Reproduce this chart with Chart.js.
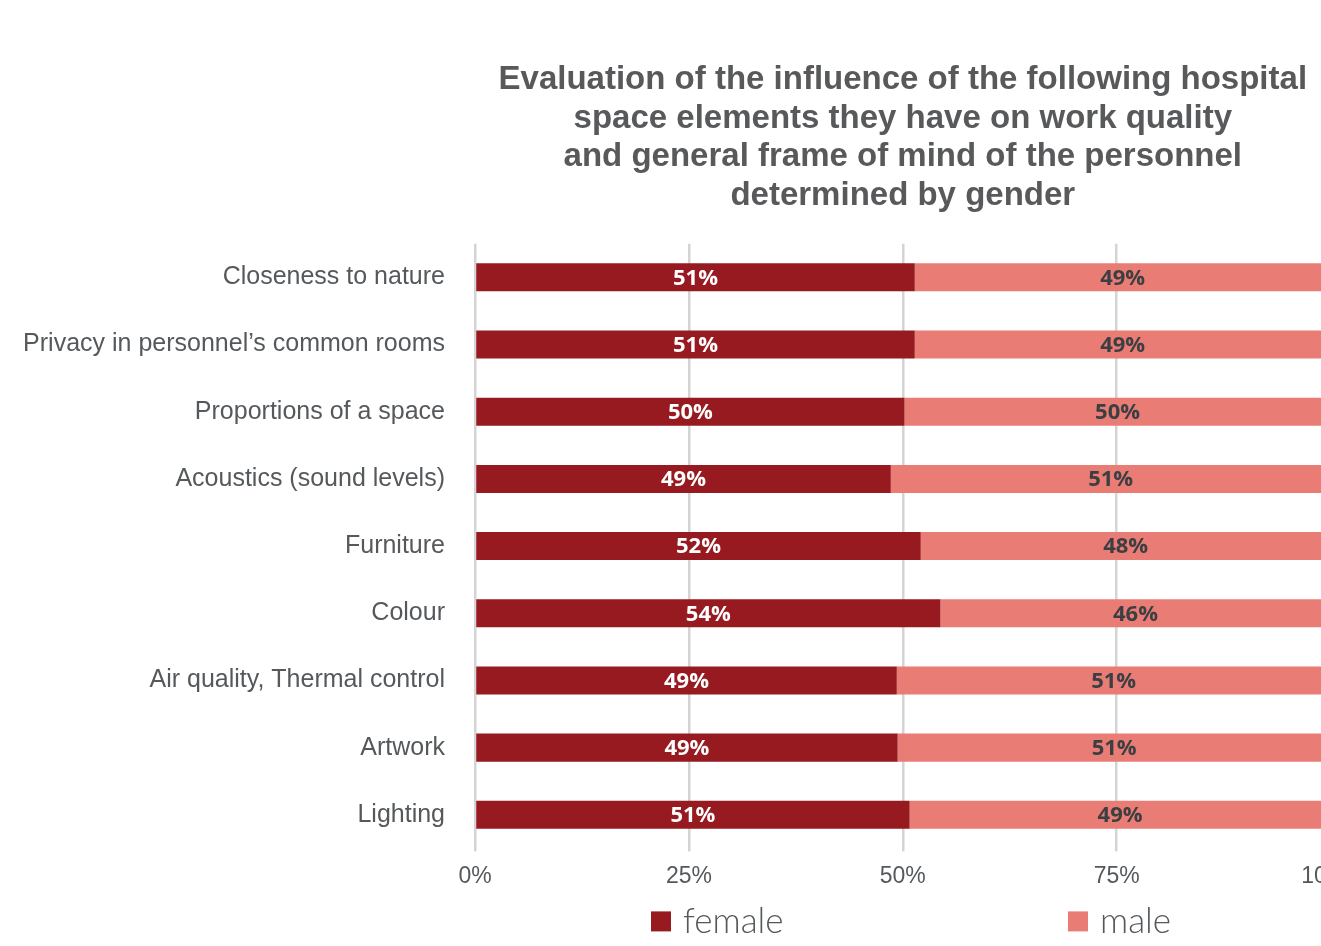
<!DOCTYPE html>
<html>
<head>
<meta charset="utf-8">
<script src="https://cdn.jsdelivr.net/npm/chart.js@4.4.1/dist/chart.umd.min.js"></script>
<style>
  html, body { margin: 0; padding: 0; background: #ffffff; overflow: hidden; }
  #wrap { position: relative; width: 1371px; height: 946px; }
</style>
</head>
<body>
<div id="wrap"><canvas id="c" width="1371" height="946"></canvas></div>
<script>
const categories = [
  "Closeness to nature",
  "Privacy in personnel\u2019s common rooms",
  "Proportions of a space",
  "Acoustics (sound levels)",
  "Furniture",
  "Colour",
  "Air quality, Thermal control",
  "Artwork",
  "Lighting"
];
const femaleValues = [51.4, 51.4, 50.2, 48.6, 52.1, 54.4, 49.3, 49.4, 50.8];
const maleValues   = [48.6, 48.6, 49.8, 51.4, 47.9, 45.6, 50.7, 50.6, 49.2];
const seriesNames = ["female", "male"];
const xTickValues = [0, 25, 50, 75, 100];
const titleLines = [
  "Evaluation of the influence of the following hospital",
  "space elements they have on work quality",
  "and general frame of mind of the personnel",
  "determined by gender"
];

const FEMALE_COLOR = "#961a1f";
const MALE_COLOR = "#e97c75";
const TEXT_GREY = "#55595c";

const barLabels = {
  id: "barLabels",
  afterDatasetsDraw(chart) {
    const ctx = chart.ctx;
    ctx.save();
    ctx.font = "bold 22px 'Open Sans', 'DejaVu Sans', sans-serif";
    ctx.textAlign = "center";
    ctx.textBaseline = "middle";
    chart.data.datasets.forEach((ds, di) => {
      const meta = chart.getDatasetMeta(di);
      ctx.fillStyle = di === 0 ? "#ffffff" : "#3c3f42";
      meta.data.forEach((el, i) => {
        const v = ds.data[i];
        const cx = (el.x + el.base) / 2;
        ctx.fillText(Math.round(v) + "%", cx, el.y + 1);
      });
    });
    ctx.restore();
  }
};

const customLegend = {
  id: "customLegend",
  afterDraw(chart) {
    const ctx = chart.ctx;
    const a = chart.chartArea;
    const offsets = [176, 593];
    const cy = a.bottom + 73;
    ctx.save();
    ctx.font = "300 35px Lato, 'Open Sans', sans-serif";
    ctx.textBaseline = "middle";
    ctx.textAlign = "left";
    chart.data.datasets.forEach((ds, i) => {
      const x = a.left + offsets[i];
      ctx.fillStyle = ds.backgroundColor;
      ctx.fillRect(x, cy - 10, 20, 20);
      ctx.fillStyle = TEXT_GREY;
      ctx.fillText(ds.label, x + 32, cy);
    });
    ctx.restore();
  }
};

new Chart(document.getElementById("c"), {
  type: "bar",
  data: {
    labels: categories,
    datasets: [
      { label: seriesNames[0], data: femaleValues, backgroundColor: FEMALE_COLOR, borderWidth: 0,
        categoryPercentage: 1, barPercentage: 0.417 },
      { label: seriesNames[1], data: maleValues, backgroundColor: MALE_COLOR, borderWidth: 0,
        categoryPercentage: 1, barPercentage: 0.417 }
    ]
  },
  options: {
    indexAxis: "y",
    responsive: false,
    devicePixelRatio: 1,
    animation: false,
    layout: { padding: { left: 0, right: 30, top: 0, bottom: 45 } },
    plugins: {
      legend: { display: false },
      tooltip: { enabled: false },
      title: {
        display: true,
        fullSize: false,
        text: titleLines,
        color: "#58595b",
        font: { family: "'Liberation Sans', Arial, sans-serif", size: 33, weight: "bold", lineHeight: 1.18 },
        padding: { top: 60, bottom: 28 }
      }
    },
    scales: {
      x: {
        stacked: true,
        min: 0,
        max: 100,
        afterBuildTicks(scale) { scale.ticks = xTickValues.map(v => ({ value: v })); },
        grid: { color: "#d4d4d4", lineWidth: 2.5, drawTicks: true, tickLength: 3 },
        border: { display: false },
        ticks: {
          padding: 11,
          color: TEXT_GREY,
          font: { family: "'Liberation Sans Narrow', 'Liberation Sans', sans-serif", size: 23 },
          callback: v => v + "%"
        }
      },
      y: {
        stacked: true,
        grid: { display: false, drawTicks: false },
        border: { display: false },
        afterFit(scale) { scale.width = 475; },
        ticks: {
          padding: 30,
          color: TEXT_GREY,
          font: { family: "'Liberation Sans', Arial, sans-serif", size: 25 }
        }
      }
    }
  },
  plugins: [barLabels, customLegend]
});
</script>
</body>
</html>
